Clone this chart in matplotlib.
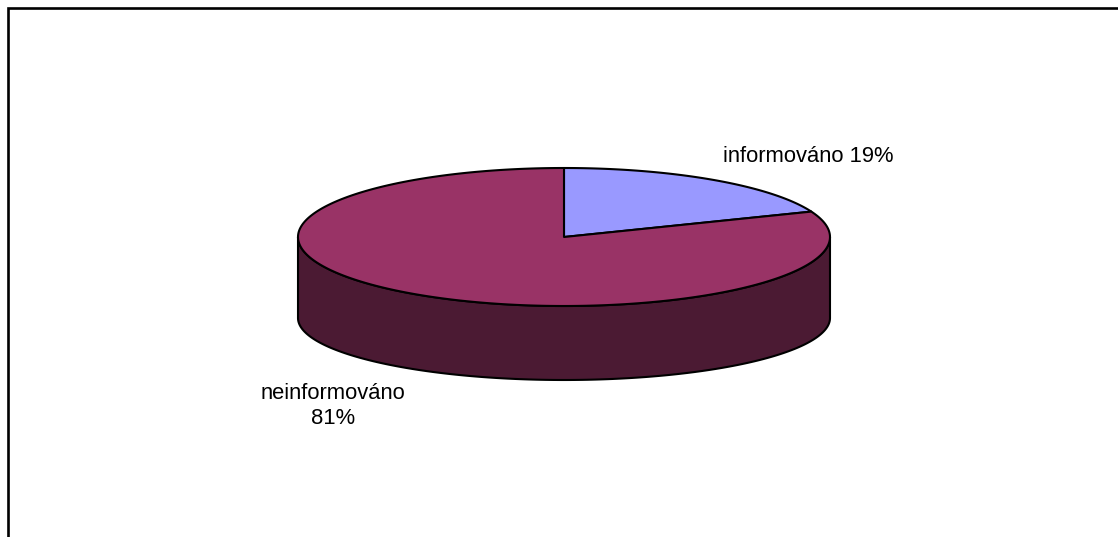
import numpy as np
import matplotlib.pyplot as plt
from matplotlib.patches import Polygon

plt.rcParams['font.family'] = ['Liberation Sans', 'DejaVu Sans']

# survey answers
labels = ['informováno', 'neinformováno']
shares = [19, 81]
top_colors = ['#9999FF', '#993366']
side_color = '#4B1A33'

W, H = 1118, 537
fig = plt.figure(figsize=(W / 100, H / 100), dpi=100)
ax = fig.add_axes([0, 0, 1, 1])
ax.set_xlim(0, W)
ax.set_ylim(H, 0)
ax.axis('off')

# frame (top and left edges only)
ax.plot([8, 8, W], [H, 8, 8], color='black', lw=1.9, solid_joinstyle='miter', zorder=1)

# pie geometry in pixels
cx, cy = 564, 237
rx, ry = 266, 69
depth, ry_bot = 81, 62


def top_pt(theta):
    # theta in degrees, clockwise from 12 o'clock
    t = np.radians(theta)
    return cx + rx * np.sin(t), cy - ry * np.cos(t)


def bot_pt(theta):
    t = np.radians(theta)
    return cx + rx * np.sin(t), cy + depth - ry_bot * np.cos(t)


# side wall: only the front half (90..270 deg) is visible
front = np.linspace(90, 270, 200)
tx, ty = top_pt(front)
bx, by = bot_pt(front[::-1])
side = np.column_stack([np.concatenate([tx, bx]), np.concatenate([ty, by])])
ax.add_patch(Polygon(side, closed=True, facecolor=side_color, edgecolor='black', lw=1.5, zorder=2))

# top face wedges
start = 0.0
for share, col in zip(shares, top_colors):
    end = start + 360 * share / sum(shares)
    th = np.linspace(start, end, 300)
    px, py = top_pt(th)
    pts = np.column_stack([np.concatenate([[cx], px]), np.concatenate([[cy], py])])
    ax.add_patch(Polygon(pts, closed=True, facecolor=col, edgecolor='black', lw=1.5,
                         joinstyle='round', zorder=3))
    start = end

# data labels
ax.text(808, 157, f'{labels[0]} {shares[0]}%', fontsize=15.8, ha='center', va='center', zorder=4)
ax.text(333, 406, f'{labels[1]}\n{shares[1]}%', fontsize=15.8, ha='center', va='center',
        linespacing=1.25, zorder=4)

fig.savefig('out.png', dpi=100)
